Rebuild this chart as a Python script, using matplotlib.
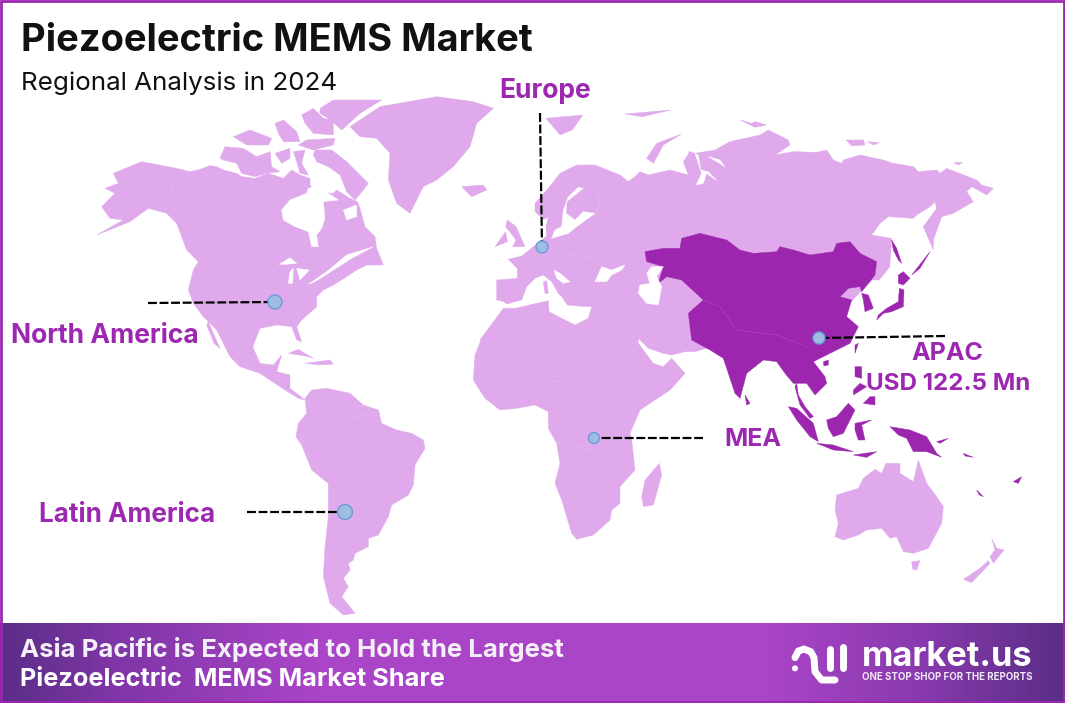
import numpy as np
import matplotlib
matplotlib.use("Agg")
import matplotlib.pyplot as plt
from matplotlib.patches import Polygon, Circle
from matplotlib.colors import LinearSegmentedColormap

plt.rcParams['font.family'] = ['Inter', 'DejaVu Sans']

LIGHT = "#E0A9EC"
DARK = "#9C27AE"
PURPLE = "#9C27B0"


def crop(x0, y0, pts, sx=3):
    return [(x0 + x / sx, y0 + y / 3) for x, y in pts]

def z2(pts):
    return crop(620, 220, pts)

def z3(pts):
    return crop(60, 90, pts)

def z4(pts):
    return crop(460, 100, pts, 2.85)

def z5(pts):
    return crop(240, 330, pts)

def eu(pts):
    return crop(480, 130, pts)

def ca(pts):
    return crop(200, 95, pts)

def au(pts):
    return crop(780, 440, pts)

def ru(pts):
    return crop(680, 120, pts)

def lg(pts):
    return crop(780, 635, pts)


# ---- light regions
north_america = z3([(160, 250), (245, 215), (350, 235), (390, 245), (420, 238)]) + \
    ca([(30, 212), (50, 215), (70, 225), (110, 235), (125, 245), (165, 250), (205, 235), (250, 250), (275, 225),
        (300, 240), (330, 250), (330, 270), (345, 290), (400, 295), (410, 285), (450, 310), (472, 320), (480, 340),
        (495, 395), (525, 425), (530, 460), (550, 510), (500, 510), (470, 525), (440, 545), (400, 570)]) + \
    z3([(790, 600), (770, 620), (770, 650), (725, 690), (710, 710), (725, 755), (710, 750), (695, 710), (650, 705),
        (600, 715), (578, 770), (600, 820), (640, 825), (665, 795)]) + \
    z5([(110, 125), (150, 135), (150, 175), (195, 210), (175, 205), (135, 180), (60, 130), (0, 110)]) + \
    z3([(510, 800), (470, 720), (430, 680), (400, 640), (385, 600), (400, 540), (415, 515), (380, 480), (350, 400),
        (320, 370), (265, 355), (210, 395), (110, 435), (190, 390), (150, 385), (125, 350), (165, 310), (135, 295),
        (175, 280)])
baja = z3([(445, 695), (480, 775), (462, 760), (440, 705)])
ellesmere = ca([(360, 40), (400, 15), (545, 15), (480, 55), (425, 105), (385, 70), (360, 55)])
axel_heiberg = ca([(305, 60), (340, 40), (370, 70), (400, 75), (400, 120), (340, 115), (315, 85)])
baffin = ca([(345, 165), (395, 165), (440, 200), (505, 265), (490, 285), (465, 315), (440, 290), (420, 240), (385, 215),
             (350, 200), (340, 180)])
victoria = ca([(60, 190), (75, 155), (130, 160), (170, 185), (210, 170), (215, 215), (240, 230), (200, 235), (165, 245),
               (125, 235), (110, 205), (70, 195)])
prince_wales = ca([(225, 175), (270, 160), (270, 190), (245, 205)])
somerset = ca([(280, 170), (315, 165), (305, 205), (325, 240), (300, 235), (290, 200)])
devon = ca([(295, 150), (320, 135), (405, 130), (400, 150), (340, 165)])
melville = ca([(100, 125), (150, 105), (215, 130), (205, 150), (140, 150)])
bathurst = ca([(225, 85), (250, 75), (290, 110), (300, 140), (250, 140), (235, 115)])
greenland = z3([(870, 110), (960, 50), (1130, 20), (1240, 35), (1300, 55), (1250, 100), (1230, 170), (1180, 230),
                (1130, 270), (1090, 290), (1050, 370), (1010, 340), (985, 270), (990, 190), (950, 145), (900, 140)])
iceland = z3([(1205, 290), (1270, 285), (1280, 300), (1235, 320)])
cuba = z5([(145, 70), (175, 58), (220, 85), (195, 78)])
hispaniola = z5([(195, 100), (270, 90), (280, 102), (240, 105)])
south_america = z5([(195, 205), (215, 180), (260, 175), (330, 190), (370, 225), (415, 240), (425, 280), (470, 300),
                    (515, 310), (550, 330), (555, 355), (525, 405), (520, 465), (505, 495), (455, 525), (445, 560),
                    (415, 615), (385, 625), (385, 650), (345, 670), (340, 690), (325, 700), (330, 720), (310, 745),
                    (325, 770), (305, 800), (345, 850), (310, 855), (270, 820), (250, 740), (255, 650), (265, 560),
                    (265, 460), (215, 420), (185, 345), (168, 320), (175, 280), (200, 250)])
madagascar = z5([(1258, 400), (1265, 435), (1240, 525), (1210, 530), (1205, 500), (1215, 450)])
# Eurasia, Arabia and Africa are one shape in the picture
old_world = eu([(50, 450), (112, 445), (112, 415), (85, 388), (125, 378), (160, 350), (200, 318), (198, 290), (205, 262),
                (190, 268), (165, 245), (165, 220), (205, 175), (240, 130), (290, 105), (345, 105), (420, 135), (445, 155),
                (425, 180), (405, 195), (385, 180), (365, 155), (400, 170), (430, 165), (465, 140), (480, 125), (505, 135),
                (570, 120), (625, 135), (610, 95), (630, 65), (655, 80), (660, 140)]) + \
    ru([(25, 95), (45, 100), (105, 90), (150, 65), (240, 45), (265, 30), (325, 60), (330, 75), (285, 105), (340, 95),
        (410, 97), (440, 90), (460, 120), (485, 130), (490, 120), (540, 105), (610, 120), (640, 130), (700, 140),
        (715, 155), (770, 150), (780, 160), (800, 145), (890, 180), (905, 195), (940, 205), (920, 225), (875, 200),
        (860, 215), (880, 245), (820, 280), (785, 290), (760, 360), (760, 390), (730, 320), (770, 265), (765, 245),
        (750, 260), (710, 285), (700, 295), (625, 290), (600, 310), (575, 345), (635, 355)]) + \
    z4([(1225, 500), (1195, 540), (1175, 540), (1100, 620)]) + \
    z2([(225, 395), (195, 395), (155, 405), (130, 400), (85, 385), (55, 355), (55, 370), (100, 430), (130, 440),
        (155, 415), (195, 460), (150, 510), (60, 570), (30, 640)]) + \
    z5([(1175, 330), (1185, 420), (1140, 470), (1140, 520), (1115, 540), (1110, 570), (1060, 615), (1010, 628),
        (995, 610), (965, 510), (945, 460), (960, 400), (950, 340), (925, 295), (925, 245), (885, 225), (830, 235),
        (780, 240), (735, 205), (700, 150), (705, 75), (725, 25)]) + \
    eu([(0, 630), (70, 535), (105, 535), (170, 520), (205, 512), (207, 545), (245, 565), (285, 585), (325, 565), (335, 530),
        (290, 528), (262, 525), (245, 500), (235, 490), (215, 455), (190, 435), (165, 445), (140, 470), (125, 510),
        (80, 522), (72, 515), (50, 510)])
sardinia = eu([(190, 455), (200, 452), (205, 490), (195, 490)])
britain = z4([(135, 360), (160, 380), (185, 440), (150, 440), (160, 420), (130, 380)])
ireland = z4([(100, 440), (130, 395), (135, 425)])
svalbard = z4([(245, 55), (350, 45), (320, 90), (285, 105)])
franz_josef = z4([(470, 42), (600, 30), (520, 50)])
novaya_zemlya = eu([(500, 85), (530, 40), (605, 12), (550, 45), (520, 100)])
severnaya = ru([(180, 0), (215, 10), (225, 5), (260, 15), (225, 22)])
new_siberian = ru([(498, 60), (550, 60), (555, 75), (515, 78)])
new_siberian_b = ru([(562, 65), (598, 68), (580, 75)])
wrangel = ru([(822, 128), (848, 127), (835, 135)])
australia = au([(165, 210), (170, 165), (235, 145), (250, 115), (285, 88), (305, 100), (318, 70), (360, 70), (360, 100),
                (400, 125), (415, 60), (440, 130), (470, 170), (490, 200), (485, 250), (445, 325), (400, 340), (370, 335),
                (350, 290), (330, 295), (305, 265), (260, 270), (235, 285), (190, 300), (165, 290), (175, 250)])
tasmania = au([(395, 365), (420, 362), (410, 390), (398, 388)])
nz_north = au([(635, 295), (650, 325), (672, 330), (640, 370), (630, 350), (645, 330)])
nz_south = au([(625, 362), (630, 370), (575, 428), (550, 418), (600, 385)])

# ---- dark regions (APAC)
asia_main = z2([(75, 95), (130, 85), (180, 85), (185, 55), (240, 40), (320, 60), (360, 90), (400, 100), (470, 95),
                (480, 80), (520, 90), (570, 105), (640, 95), (650, 70), (690, 65), (720, 100), (770, 125), (765, 165),
                (745, 190), (725, 215), (720, 200), (685, 205), (660, 230), (695, 240), (680, 290), (715, 320),
                (690, 370), (640, 395), (610, 410), (580, 425), (615, 470), (620, 490), (585, 525), (560, 490),
                (530, 490), (520, 490), (495, 460), (470, 425), (430, 420), (380, 460), (360, 535), (345, 520),
                (310, 415), (270, 390), (215, 360), (205, 280), (250, 240), (185, 180), (140, 170), (115, 190),
                (130, 140), (80, 125)])
malay = z2([(530, 490), (535, 525), (555, 560), (580, 590), (570, 595), (540, 555), (525, 500)])
korea = z2([(725, 220), (745, 225), (760, 265), (735, 275), (730, 240)])
sakhalin = z2([(815, 60), (830, 85), (845, 130), (835, 120), (820, 90)])
hokkaido = z2([(835, 165), (850, 155), (870, 175), (850, 195), (835, 190)])
honshu = z2([(770, 300), (775, 285), (800, 265), (835, 245), (838, 205), (852, 210), (850, 260), (815, 275), (790, 280)])
sri_lanka = z2([(375, 525), (390, 550), (380, 555)])
taiwan = z2([(705, 375), (715, 370), (705, 400)])
hainan = z2([(610, 425), (625, 420), (625, 435), (612, 438)])
luzon = z2([(705, 440), (725, 440), (725, 475), (705, 470)])
mindanao = z2([(750, 530), (765, 530), (765, 555), (730, 550)])
visayas = z2([(700, 510), (720, 490), (740, 500), (700, 525)])
sumatra = z2([(505, 560), (530, 565), (580, 610), (595, 665), (570, 650), (530, 600)])
borneo = z2([(620, 600), (650, 590), (685, 550), (705, 570), (670, 640), (640, 650), (625, 625)])
java = z2([(590, 670), (640, 675), (700, 695), (640, 690)])
sulawesi = z2([(705, 610), (755, 600), (725, 615), (735, 660), (715, 660), (705, 630)])
timor = z2([(700, 705), (770, 695), (740, 712)])
new_guinea = z2([(810, 620), (870, 630), (920, 650), (950, 700), (965, 712), (920, 695), (880, 695), (860, 655), (835, 645)])
new_britain = z2([(950, 665), (985, 655), (960, 670)])
solomon = z2([(1030, 700), (1060, 712), (1035, 708)])
vanuatu = z2([(1070, 810), (1090, 830), (1078, 825)])
fiji = z2([(1180, 785), (1205, 770), (1195, 790)])
kurils = z2([(875, 165), (900, 145), (930, 95)])

# ---- inland water
black_sea = eu([(345, 455), (365, 410), (395, 420), (435, 405), (425, 420), (395, 435), (380, 455)])
caspian = eu([(475, 490), (480, 465), (510, 460), (500, 430), (515, 410), (550, 410), (530, 440), (545, 470), (535, 525),
              (500, 520)])
baltic = eu([(215, 325), (265, 310), (290, 290), (345, 250), (310, 245), (285, 270), (258, 250), (260, 215), (310, 175),
             (295, 172), (265, 200), (250, 240), (245, 290), (225, 300)])
adriatic = eu([(222, 420), (240, 430), (270, 455), (250, 460), (230, 445)])
hudson = ca([(245, 345), (270, 315), (320, 295), (325, 280), (360, 270), (385, 295), (415, 315), (370, 320), (375, 370),
             (365, 400), (350, 420), (355, 455), (335, 455), (325, 410), (285, 395), (250, 375)])
ungava = ca([(430, 345), (470, 330), (470, 365), (440, 375)])
superior = ca([(238, 508), (270, 488), (290, 505), (258, 508)])
michigan = ca([(265, 565), (270, 530), (280, 520), (278, 565)])
huron = ca([(290, 520), (328, 525), (300, 555)])
lawrence = ca([(325, 568), (380, 530), (440, 480), (520, 455), (455, 490), (385, 535), (345, 560)])
ob_gulf = ru([(45, 100), (65, 160), (48, 195), (70, 190), (80, 160), (110, 182), (85, 155), (62, 150), (55, 105)])
taz_gulf = ru([(85, 110), (120, 120), (135, 140), (115, 128)])

light_shapes = [north_america, baja, ellesmere, axel_heiberg, baffin, victoria, prince_wales, somerset, devon, melville,
                bathurst, greenland, iceland, cuba, hispaniola, south_america, madagascar, old_world, sardinia, britain,
                ireland, svalbard, franz_josef, novaya_zemlya, severnaya, new_siberian, new_siberian_b, wrangel,
                australia, tasmania, nz_north, nz_south]
dark_shapes = [asia_main, malay, korea, sakhalin, hokkaido, honshu, sri_lanka, taiwan, hainan, luzon, mindanao,
               visayas, sumatra, borneo, java, sulawesi, timor, new_guinea, new_britain, solomon, vanuatu, fiji, kurils]
water_shapes = [black_sea, caspian, baltic, adriatic, hudson, ungava, superior, michigan, huron, lawrence, ob_gulf,
                taz_gulf]

# faint country borders
border_lines = [z3([(350, 235), (320, 360)]), z5([(875, 160), (890, 150), (960, 155), (1000, 240)]),
                z5([(230, 350), (300, 270), (380, 255), (410, 295)]), z5([(950, 340), (990, 345), (1060, 360)]),
                z5([(1060, 500), (1120, 520)]), eu([(350, 170), (360, 230), (330, 280)]),
                eu([(240, 365), (320, 385), (400, 350)]), eu([(420, 490), (470, 600)]),
                z2([(250, 240), (300, 260), (350, 330), (470, 345), (560, 380)])]

# ---- callouts
region_names = ["North America", "Europe", "APAC", "USD 122.5 Mn", "MEA", "Latin America"]
region_label_xy = [(105, 336), (545, 91), (947, 354), (948, 384), (753, 439), (127, 515)]
region_label_size = [19, 19, 18, 17.4, 18, 18.8]
leader_from = [(148, 303), (540, 113), (945, 336), (703, 438), (247, 512)]
leader_to = [(275, 302), (542, 247), (819, 338), (594, 438), (345, 512)]
dot_radius = [7, 6, 6, 5.5, 7.5]

banner_colors = ["#5A2E86", "#7D35A5", "#AB45C8", "#AB45C8", "#8A3AAF", "#5A2E86"]
banner_stops = [0.0, 0.1, 0.3, 0.72, 0.86, 1.0]

# logo strokes
logo_arch = lg([(45, 68), (55, 48), (72, 42), (92, 50), (102, 68), (105, 110), (125, 135), (165, 135)])
logo_bars = [lg([(150, 42), (150, 100)]), lg([(190, 35), (190, 100)])]
logo_dot = lg([(45, 100)])[0]

fig = plt.figure(figsize=(10.65, 7.03), dpi=100)
ax = fig.add_axes([0, 0, 1, 1])
ax.set_xlim(0, 1065)
ax.set_ylim(703, 0)
ax.axis("off")

for s in light_shapes:
    ax.add_patch(Polygon(s, closed=True, fc=LIGHT, ec=LIGHT, lw=0.3, zorder=2))
for s in dark_shapes:
    ax.add_patch(Polygon(s, closed=True, fc=DARK, ec=DARK, lw=0.3, zorder=3))
for s in water_shapes:
    ax.add_patch(Polygon(s, closed=True, fc="white", ec="white", lw=0.3, zorder=4))
for line in border_lines:
    ax.plot(*zip(*line), color="white", lw=0.4, alpha=0.18, zorder=4)

# banner
cmap = LinearSegmentedColormap.from_list("banner", list(zip(banner_stops, banner_colors)))
ax.imshow(np.linspace(0, 1, 512).reshape(1, -1), cmap=cmap, extent=(0, 1065, 703, 623), aspect="auto", zorder=5)
ax.set_xlim(0, 1065)
ax.set_ylim(703, 0)

# border
ax.add_patch(plt.Rectangle((1, 1), 1063, 701, fc="none", ec=PURPLE, lw=2, zorder=6))

ax.text(21, 37, "Piezoelectric MEMS Market", fontsize=27.4, fontweight="bold", color="#111111", va="center_baseline", zorder=7)
ax.text(21, 81, "Regional Analysis in 2024", fontsize=18.7, color="#111111", va="center_baseline", zorder=7)

for name, (x, y), size in zip(region_names, region_label_xy, region_label_size):
    ax.text(x, y, name, fontsize=size, fontweight="bold", color=PURPLE, ha="center", va="center", zorder=7)

for a, b, r in zip(leader_from, leader_to, dot_radius):
    ax.plot([a[0], b[0]], [a[1], b[1]], color="black", lw=1.6, ls=(0, (4, 1.2)), zorder=7)
    ax.add_patch(Circle(b, r, fc="#9DBDE3", ec="#6A9BD8", lw=1, zorder=8))

ax.text(20, 650, "Asia Pacific is Expected to Hold the Largest", fontsize=18.5, fontweight="bold", color="#F5F0F7",
        va="center", zorder=7)
ax.text(20, 680, "Piezoelectric  MEMS Market Share", fontsize=18.2, fontweight="bold", color="white", va="center", zorder=7)

# logo
ax.plot(*zip(*logo_arch), color="white", lw=5, zorder=7, solid_capstyle="round", solid_joinstyle="round")
for bar in logo_bars:
    ax.plot(*zip(*bar), color="white", lw=5, zorder=7, solid_capstyle="round")
ax.add_patch(Circle(logo_dot, 3, fc="white", ec="none", zorder=7))
ax.text(862, 657, "market.us", fontsize=24.8, fontweight="bold", color="white", va="center", zorder=7)
ax.text(862, 676.5, "ONE STOP SHOP FOR THE REPORTS", fontsize=7, fontweight="bold", color="#F0E6F5", va="center", zorder=7)

fig.savefig("out.png", dpi=100)
